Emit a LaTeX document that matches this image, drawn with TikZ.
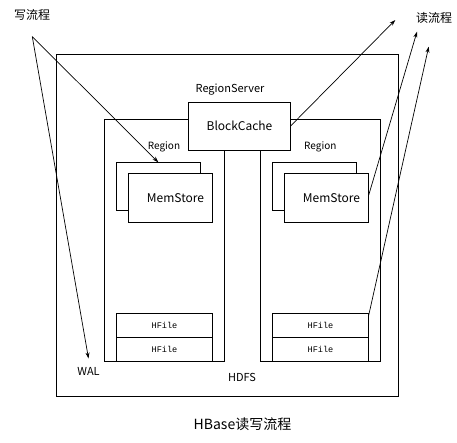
\documentclass[tikz,border=0pt]{standalone}
\usepackage{fontspec}
\setmainfont{Noto Sans CJK SC}
\newfontfamily\hmono{Liberation Mono}
\usetikzlibrary{arrows.meta}
\begin{document}
\begin{tikzpicture}[x=1pt,y=-1pt,
  box/.style={draw, line width=1pt, inner sep=0pt, outer sep=0pt, anchor=north west, fill=white},
  lbl/.style={inner sep=0pt, font=\fontsize{10}{12}\selectfont},
  hf/.style={box, line width=0.9pt, minimum width=96.4pt, minimum height=24pt, font=\hmono\fontsize{8.6}{10}\selectfont},
  flow/.style={line width=0.7pt, -{Stealth[length=6pt,width=4pt]}}]
\useasboundingbox (0,0) rectangle (457,443);
% outer RegionServer box
\node[box, minimum width=342pt, minimum height=341.7pt] (rs) at (56.5,54.5) {};
% regions
\node[box, minimum width=119.5pt, minimum height=242pt] (lr) at (104.5,119.5) {};
\node[box, minimum width=120pt, minimum height=242pt] (rr) at (260.5,119.5) {};
% BlockCache
\node[box, minimum width=101.6pt, minimum height=48pt, font=\fontsize{12}{14}\selectfont] (bc) at (188.7,102.3) {BlockCache};
\node[lbl, font=\fontsize{11}{13}\selectfont] (rslbl) at (230,90) {RegionServer};
% region labels
\node[lbl] (lrl) at (164,147.3) {Region};
\node[lbl] (rrl) at (320.3,147.3) {Region};
% MemStores
\node[box, minimum width=84pt, minimum height=48.4pt] (lmb) at (116.3,162.3) {};
\node[box, minimum width=84.4pt, minimum height=48.3pt, font=\fontsize{12}{14}\selectfont] (lmf) at (128.3,174) {\hspace{10pt}MemStore};
\node[box, minimum width=84pt, minimum height=48.4pt] (rmb) at (272.3,162.3) {};
\node[box, minimum width=84.4pt, minimum height=48.3pt, font=\fontsize{12}{14}\selectfont] (rmf) at (284.3,174) {\hspace{10pt}MemStore};
% HFiles
\node[hf] (lh1) at (116.3,313.3) {HFile};
\node[hf] (lh2) at (116.3,337.3) {HFile};
\node[hf] (rh1) at (272.3,313.3) {HFile};
\node[hf] (rh2) at (272.3,337.3) {HFile};
% redraw region bottom over hfiles
\draw[line width=1pt] (lr.south west) -- (lr.south east);
\draw[line width=1pt] (rr.south west) -- (rr.south east);
% labels
\node[lbl, font=\fontsize{11}{13}\selectfont] (wal) at (88.5,371.7) {WAL};
\node[lbl, font=\fontsize{11}{13}\selectfont] (hdfs) at (242,377.3) {HDFS};
\node[lbl, font=\fontsize{14}{16}\selectfont] (title) at (242.5,424) {HBase读写流程};
\node[lbl, font=\fontsize{12}{14}\selectfont] (wlbl) at (32,15) {写流程};
\node[lbl, font=\fontsize{12}{14}\selectfont] (rlbl) at (434,18.3) {读流程};
% write flow
\coordinate (w0) at (32.3,36.7);
\draw[flow] (w0) -- (lmb.north);
\draw[flow] (w0) -- ([yshift=9pt]wal.north);
% read flow
\coordinate (r1) at (395.3,20);
\coordinate (r2) at (417,31.7);
\coordinate (r3) at (428.7,46.7);
\draw[flow] (bc.east) -- (r1);
\draw[flow] ([yshift=3pt]rmf.east) -- (r2);
\draw[flow] ([yshift=-2pt]rh1.north east) -- (r3);
\end{tikzpicture}
\end{document}
